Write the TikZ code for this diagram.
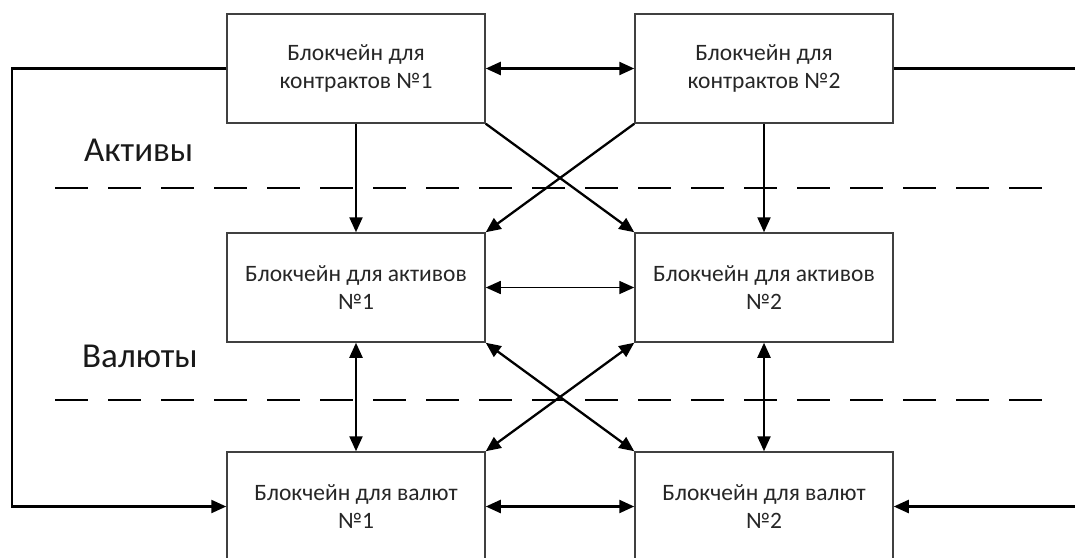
\documentclass[tikz,border=0pt]{standalone}
\usepackage{fontspec}
\setmainfont{Carlito}
\usetikzlibrary{arrows.meta}
\begin{document}
\begin{tikzpicture}[x=1pt,y=-1pt,
  box/.style={draw=black!75,line width=1.5pt,minimum width=258pt,minimum height=109pt,
    align=center,font=\fontsize{23.5}{28}\selectfont,text=black!85,inner sep=0pt},
  tip/.style={},
  conn/.style={line width=2.3pt,-{Triangle[length=15pt,width=13pt]}},
  dconn/.style={line width=2.3pt,{Triangle[length=15pt,width=13pt]}-{Triangle[length=15pt,width=13pt]}},
  thinconn/.style={line width=1.6pt,{Triangle[length=15pt,width=13pt]}-{Triangle[length=15pt,width=13pt]}},
  plain/.style={line width=2.3pt},
  sep/.style={line width=2.2pt,dash pattern=on 33pt off 20pt},
  lbl/.style={font=\fontsize{35}{40}\selectfont,text=black!90,inner sep=0pt}]
\useasboundingbox (0,0) rectangle (1075,557);
\fill[white] (0,0) rectangle (1075,557);
% boxes
\node[box] (c1) at (356,68.5) {Блокчейн для\\контрактов №1};
\node[box] (c2) at (764,68.5) {Блокчейн для\\контрактов №2};
\node[box] (a1) at (356,287.5) {Блокчейн для активов\\№1};
\node[box] (a2) at (764,287.5) {Блокчейн для активов\\№2};
\node[box] (v1) at (356,506.5) {Блокчейн для валют\\№1};
\node[box] (v2) at (764,506.5) {Блокчейн для валют\\№2};
% labels
\node[lbl,anchor=west] (lact) at (84,150) {Активы};
\node[lbl,anchor=west] (lval) at (82,356) {Валюты};
% separators
\coordinate (s1a) at (55,188);
\coordinate (s1b) at (1045,188);
\coordinate (s2a) at (55,400);
\coordinate (s2b) at (1045,400);
\draw[sep] (s1a) -- (s1b);
\draw[sep] (s2a) -- (s2b);
% top connections
\draw[dconn] (c1.east) -- (c2.west);
\draw[conn] (c1.south) -- (a1.north);
\draw[conn] (c2.south) -- (a2.north);
\draw[conn] (c1.south east) -- (a2.north west);
\draw[conn] (c2.south west) -- (a1.north east);
% middle
\draw[thinconn] (a1.east) -- (a2.west);
\draw[dconn] (a1.south) -- (v1.north);
\draw[dconn] (a2.south) -- (v2.north);
\draw[dconn] (a1.south east) -- (v2.north west);
\draw[dconn] (a2.south west) -- (v1.north east);
% bottom
\draw[dconn] (v1.east) -- (v2.west);
% outer loops
\coordinate (lcorner1) at (12,68.5);
\coordinate (lcorner2) at (12,506.5);
\draw[conn] (c1.west) -- (lcorner1) -- (lcorner2) -- (v1.west);
\coordinate (rtop) at (1075,68.5);
\coordinate (rbot) at (1075,506.5);
\draw[plain] (c2.east) -- (rtop);
\draw[conn] (rbot) -- (v2.east);
\end{tikzpicture}
\end{document}
